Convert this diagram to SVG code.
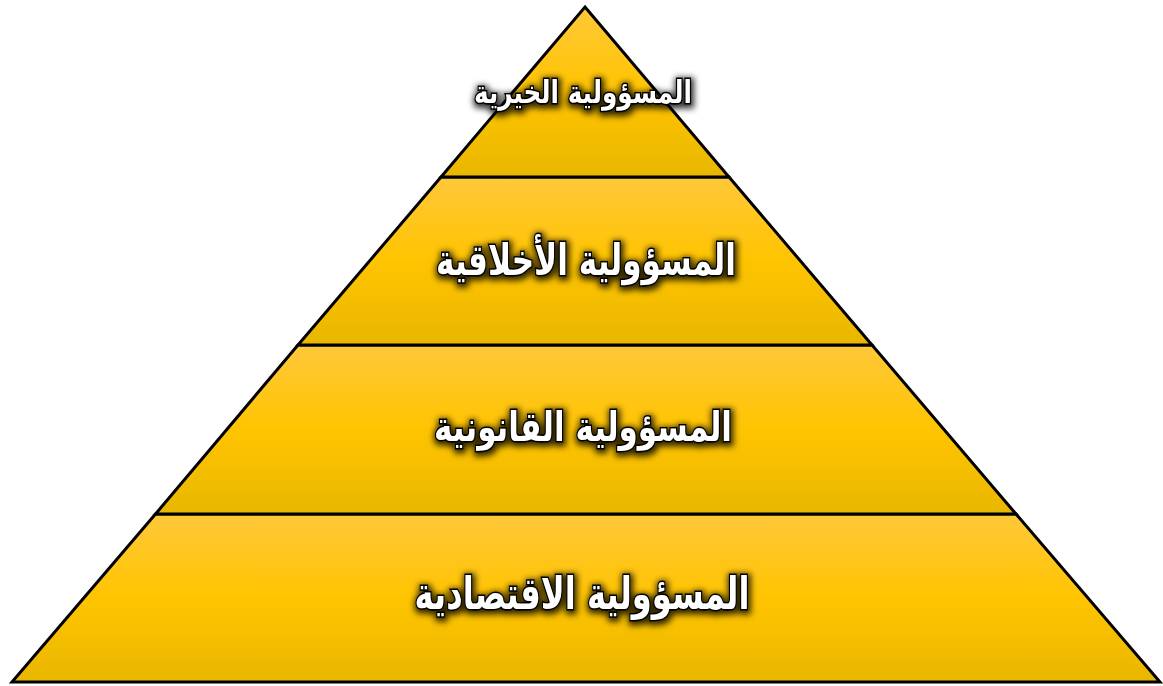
<svg xmlns="http://www.w3.org/2000/svg" width="1163" height="686" viewBox="0 0 1163 686">
<defs>
<linearGradient id="g" x1="0" y1="0" x2="0" y2="1">
<stop offset="0" stop-color="#FFC83A"/>
<stop offset="0.5" stop-color="#FFC400"/>
<stop offset="1" stop-color="#E9B700"/>
</linearGradient>
<filter id="glow" x="-20%" y="-50%" width="140%" height="200%">
<feMorphology in="SourceAlpha" operator="dilate" radius="2" result="d"/>
<feGaussianBlur in="d" stdDeviation="3"/>
<feOffset dx="1" dy="2" result="b"/>
<feFlood flood-color="#000" flood-opacity="0.8"/>
<feComposite in2="b" operator="in"/>
<feMerge><feMergeNode/><feMergeNode in="SourceGraphic"/></feMerge>
</filter>
<style>
.layer{fill:url(#g);stroke:#000;stroke-width:3;stroke-linejoin:miter}
.lbl{font-family:"DejaVu Sans",sans-serif;font-weight:bold;fill:#fff;stroke:#000;stroke-width:3;paint-order:stroke;text-anchor:middle;filter:url(#glow)}
</style>
</defs>
<rect width="1163" height="686" fill="#fff"/>
<g id="layer4">
<polygon class="layer" points="155.5,514 1016,514 1160,682 12,682"/>
<text class="lbl" x="582" y="609" font-size="45" direction="rtl" textLength="335" lengthAdjust="spacingAndGlyphs">المسؤولية الاقتصادية</text>
</g>
<g id="layer3">
<polygon class="layer" points="298,345 872,345 1016,514 155.5,514"/>
<text class="lbl" x="583" y="441" font-size="41" direction="rtl" textLength="298" lengthAdjust="spacingAndGlyphs">المسؤولية القانونية</text>
</g>
<g id="layer2">
<polygon class="layer" points="441,177 729,177 872,345 298,345"/>
<text class="lbl" x="586" y="275" font-size="43" direction="rtl" textLength="300" lengthAdjust="spacingAndGlyphs">المسؤولية الأخلاقية</text>
</g>
<g id="layer1">
<polygon class="layer" points="585,7 729,177 441,177"/>
<text class="lbl" x="583" y="103" font-size="31" direction="rtl" textLength="218" lengthAdjust="spacingAndGlyphs">المسؤولية الخيرية</text>
</g>
<g id="connectors"></g>
</svg>
